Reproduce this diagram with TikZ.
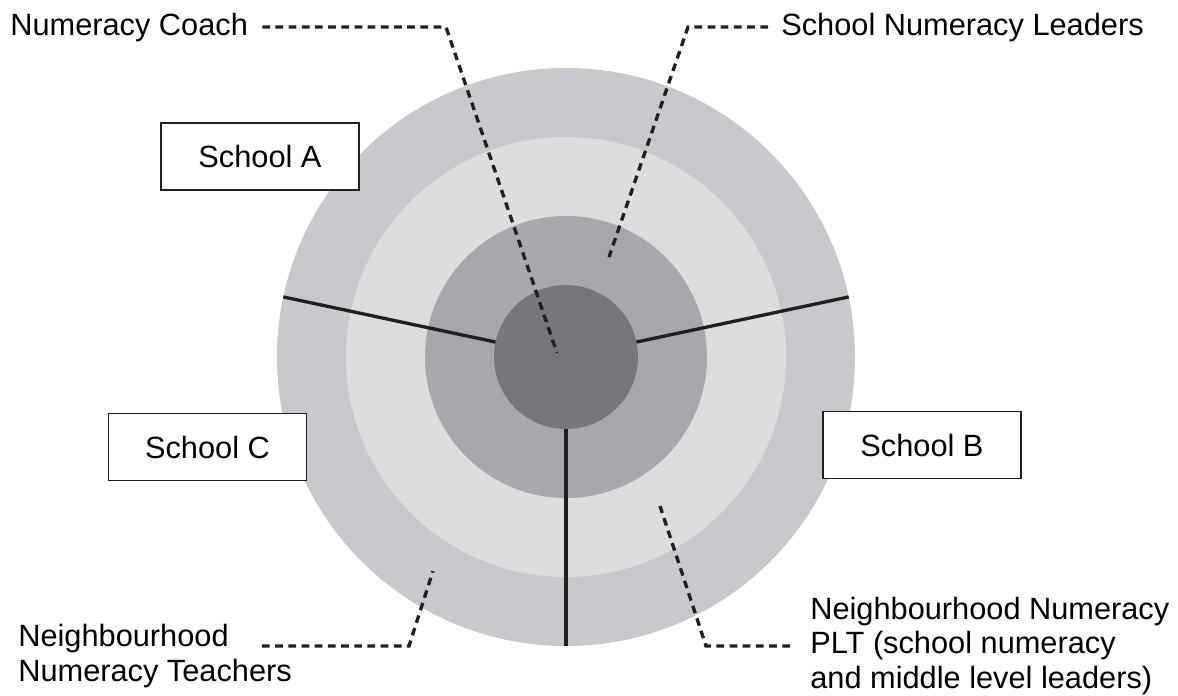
\documentclass[tikz,border=0pt]{standalone}
\usepackage{fontspec}
\setmainfont{Liberation Sans}
\usetikzlibrary{positioning}
\definecolor{ringOuter}{RGB}{200,201,204}
\definecolor{ringLight}{RGB}{220,221,223}
\definecolor{ringMid}{RGB}{167,168,172}
\definecolor{ringCore}{RGB}{118,119,123}
\definecolor{inkDark}{RGB}{35,31,32}
\tikzset{
    disc/.style={circle, inner sep=0pt, outer sep=0pt, minimum size=#1}, % one filled ring
    schoolbox/.style={draw=inkDark, line width=0.8pt, fill=white, minimum width=3.96cm,
        minimum height=1.34cm, inner sep=0pt, font=\fontsize{17.5}{19.5}\selectfont},
    callout/.style={inner sep=0pt, align=left, font=\fontsize{17.5}{19.5}\selectfont},
    divider/.style={draw=inkDark, line width=1.9pt},
    leader/.style={draw=inkDark, line width=1.9pt, dash pattern=on 4.4pt off 3.1pt},
}

\begin{document}
\begin{tikzpicture}
    \useasboundingbox (-11.32,-6.76) rectangle (12.24,7.14);

    % Anelli concentrici
    \node[disc=11.56cm, fill=ringOuter] (outer) at (0,0) {};
    \node[disc=8.80cm, fill=ringLight] (light) at (0,0) {};
    \node[disc=5.64cm, fill=ringMid] (mid) at (0,0) {};
    \node[disc=2.88cm, fill=ringCore] (core) at (0,0) {};

    % Divisori tra le scuole
    \draw[divider] (core.168) -- (outer.168);
    \draw[divider] (core.12) -- (outer.12);
    \draw[divider] (core.270) -- (outer.270);

    % Scuole
    \node[schoolbox] (schoolA) at (-6.12,4.01) {School A};
    \node[schoolbox] (schoolB) at (7.12,-1.76) {School B};
    \node[schoolbox] (schoolC) at (-7.17,-1.80) {School C};

    % Etichette
    \node[callout, anchor=base west] (coach) at (-11.12,6.44) {Numeracy Coach};
    \node[callout, anchor=base west] (leaders) at (4.30,6.44) {School Numeracy Leaders};
    \node[callout, anchor=west] (teachers) at (-10.96,-5.98) {Neighbourhood\\Numeracy Teachers};
    \node[callout, anchor=west] (plt) at (4.88,-5.78) {Neighbourhood Numeracy\\PLT (school numeracy\\and middle level leaders)};

    % Linee tratteggiate
    \coordinate (coachBend) at (-2.40,6.64);
    \coordinate (coachEnd) at (-0.18,0.08);
    \coordinate (leadBend) at (2.44,6.64);
    \coordinate (leadEnd) at (0.86,2.00);
    \coordinate (teachStart) at (-6.08,-5.78);
    \coordinate (teachBend) at (-3.14,-5.78);
    \coordinate (teachEnd) at (-2.66,-4.28);
    \coordinate (pltBend) at (2.80,-5.78);
    \coordinate (pltEnd) at (1.88,-2.98);

    \draw[leader, shorten <=0.28cm] (coach.east) -- (coach.east -| coachBend) -- (coachEnd);
    \draw[leader, shorten <=0.26cm] (leaders.west) -- (leaders.west -| leadBend) -- (leadEnd);
    \draw[leader] (teachStart) -- (teachBend) -- (teachEnd);
    \draw[leader, shorten <=0.4cm] (plt.west) -- (plt.west -| pltBend) -- (pltEnd);
\end{tikzpicture}
\end{document}
